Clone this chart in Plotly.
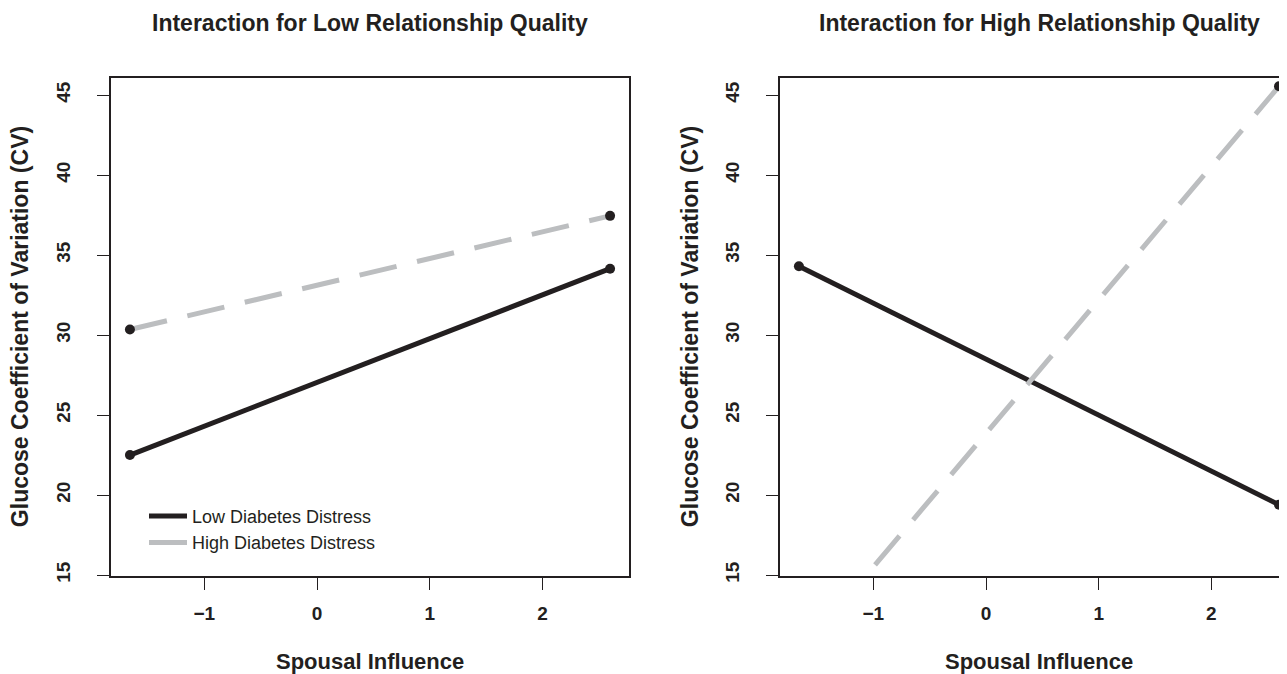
import plotly.graph_objects as go

# ---- data ----
x_vals = [-1.66, 2.60]
low_rq_low_dd = [22.5, 34.15]
low_rq_high_dd = [30.35, 37.45]
high_rq_low_dd = [34.3, 19.4]
high_rq_high_dd = [10.0, 45.55]
series_names = ["Low Diabetes Distress", "High Diabetes Distress"]
panel_titles = ["Interaction for Low Relationship Quality",
                "Interaction for High Relationship Quality"]
x_ticks = [-1, 0, 1, 2]
y_ticks = [15, 20, 25, 30, 35, 40, 45]
x_title = "Spousal Influence"
y_title = "Glucose Coefficient of Variation (CV)"

W, H = 1287, 674
DARK = "#231f20"
GRAY = "#bcbec0"
FONT = "Liberation Sans, Arial, sans-serif"

fig = go.Figure()

panels = [
    ("x", "y", low_rq_low_dd, low_rq_high_dd, True),
    ("x2", "y2", high_rq_low_dd, high_rq_high_dd, False),
]
for xa, ya, low, high, show in panels:
    fig.add_trace(go.Scatter(x=x_vals, y=low, mode="lines", xaxis=xa, yaxis=ya,
                             name=series_names[0], showlegend=show, legendrank=1,
                             line=dict(color=DARK, width=5)))
    fig.add_trace(go.Scatter(x=x_vals, y=high, mode="lines", xaxis=xa, yaxis=ya,
                             name=series_names[1], showlegend=show, legendrank=2,
                             line=dict(color=GRAY, width=5, dash="38px,21px")))
    fig.add_trace(go.Scatter(x=x_vals + x_vals, y=low + high, mode="markers",
                             xaxis=xa, yaxis=ya, showlegend=False,
                             marker=dict(color=DARK, size=10)))

ydom = [1 - 574 / H, 1 - 71 / H]
common_x = dict(tickvals=x_ticks, ticks="outside", ticklen=12, tickwidth=1.2,
                tickcolor=DARK, showline=True, linecolor=DARK, linewidth=1.5,
                mirror=True, showgrid=False, zeroline=False,
                ticklabelstandoff=7,
                tickfont=dict(family=FONT, size=19, color=DARK, weight="bold"))
common_y = dict(tickvals=y_ticks, ticks="outside", ticklen=12, tickwidth=1.2,
                tickcolor=DARK, showline=True, linecolor=DARK, linewidth=1.5,
                showgrid=False, zeroline=False, tickangle=-90,
                range=[14.94, 46.05], domain=ydom, ticklabelstandoff=20,
                tickfont=dict(family=FONT, size=19, color=DARK, weight="bold"))

fig.update_layout(
    width=W, height=H,
    margin=dict(l=0, r=0, t=0, b=0),
    paper_bgcolor="white", plot_bgcolor="white",
    xaxis=dict(domain=[103 / W, 621 / W], range=[-1.828, 2.768], anchor="y", **common_x),
    yaxis=dict(anchor="x", mirror=True, **common_y),
    xaxis2=dict(domain=[772 / W, 1.0], range=[-1.828, 2.742], anchor="y2", **common_x),
    yaxis2=dict(anchor="x2", mirror=False, **common_y),
    legend=dict(x=136 / W, y=1 - 495 / H, xanchor="left", yanchor="top",
                bgcolor="rgba(0,0,0,0)", itemwidth=38,
                font=dict(family=FONT, size=18, color=DARK)),
    showlegend=True,
)

anns = []
centers = [(103 + 621) / 2 / W, (772 + 1290) / 2 / W]
for c, t in zip(centers, panel_titles):
    anns.append(dict(text=t, x=c, y=1 - 15 / H, xref="paper", yref="paper",
                     showarrow=False, xanchor="center", yanchor="middle",
                     font=dict(family=FONT, size=23, color=DARK, weight="bold")))
    anns.append(dict(text=x_title, x=c, y=1 - 660 / H, xref="paper", yref="paper",
                     showarrow=False, xanchor="center", yanchor="middle",
                     font=dict(family=FONT, size=22, color=DARK, weight="bold")))
for xp in [12 / W, 682 / W]:
    anns.append(dict(text=y_title, x=xp, y=(ydom[0] + ydom[1]) / 2, xref="paper",
                     yref="paper", showarrow=False, textangle=-90,
                     xanchor="center", yanchor="middle",
                     font=dict(family=FONT, size=23, color=DARK, weight="bold")))
fig.update_layout(annotations=anns)

fig.write_html("out.html")
